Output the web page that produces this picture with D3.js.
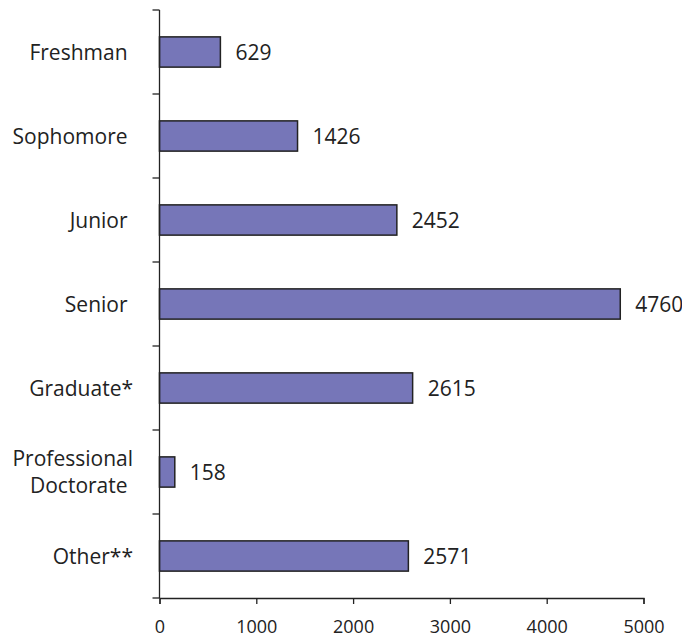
<!DOCTYPE html>
<html><head><meta charset="utf-8">
<script src="https://cdn.jsdelivr.net/npm/d3@7"></script>
<style>
body{margin:0;background:#fff;}
text{font-family:"Open Sans",sans-serif;fill:#222;white-space:pre;}
</style></head>
<body><svg id="chart" width="682" height="637"></svg>
<script>
const categories = ["Freshman ", "Sophomore ", "Junior ", "Senior ", "Graduate*", "Professional\nDoctorate ", "Other**"];
const values = [629, 1426, 2452, 4760, 2615, 158, 2571];
const xTicks = [0, 1000, 2000, 3000, 4000, 5000];

(function () {
const svg = d3.select("#chart");
const mLeft = 159.5, mRight = 643.5, mTop = 10, mBottom = 598;

const x = d3.scaleLinear().domain([0, 5000]).range([mLeft, mRight]);
const y = d3.scaleBand().domain(categories).range([mTop, mBottom]).paddingInner(0.64).paddingOuter(0.32);

// bars
svg.append("g").selectAll("rect").data(values).join("rect")
  .attr("x", x(0))
  .attr("y", (d, i) => y(categories[i]))
  .attr("width", d => x(d) - x(0))
  .attr("height", y.bandwidth())
  .attr("fill", "#7676b8")
  .attr("stroke", "#222")
  .attr("stroke-width", 1.5);

// value labels
svg.append("g").selectAll("text").data(values).join("text")
  .attr("x", d => x(d) + 15)
  .attr("y", (d, i) => y(categories[i]) + y.bandwidth() / 2)
  .attr("dy", "0.36em")
  .attr("font-size", 21)
  .text(d => d);

// x axis
const xAxis = d3.axisBottom(x).tickValues(xTicks).tickSize(6).tickPadding(16).tickFormat(d3.format("d"));
const gx = svg.append("g").attr("transform", `translate(0,${mBottom})`).call(xAxis);
gx.select(".domain").attr("stroke", "#222").attr("stroke-width", 1.3);
gx.selectAll(".tick line").attr("stroke", "#222").attr("stroke-width", 1.3);
gx.selectAll(".tick text").attr("font-size", 18).attr("font-family", "Open Sans").attr("fill", "#222");

// y axis line with ticks at band boundaries
const step = y.step();
const boundaries = d3.range(categories.length + 1).map(i => mTop + i * step);
svg.append("line").attr("x1", mLeft).attr("x2", mLeft).attr("y1", mTop).attr("y2", mBottom)
  .attr("stroke", "#222").attr("stroke-width", 1.3);
svg.append("g").selectAll("line").data(boundaries).join("line")
  .attr("x1", mLeft - 7).attr("x2", mLeft).attr("y1", d => d).attr("y2", d => d)
  .attr("stroke", "#222").attr("stroke-width", 1.3);

// category labels
const lab = svg.append("g").selectAll("text").data(categories).join("text")
  .attr("text-anchor", "end")
  .attr("font-size", 21)
  .attr("x", 133)
  .attr("y", d => y(d) + y.bandwidth() / 2);
lab.each(function(d) {
  const lines = d.split("\n");
  const t = d3.select(this);
  const lh = 27;
  lines.forEach((ln, j) => {
    t.append("tspan").attr("x", 133)
      .attr("dy", j === 0 ? (0.36 * 21 - (lines.length - 1) * lh / 2) : lh)
      .text(ln);
  });
});
})();
</script></body></html>
